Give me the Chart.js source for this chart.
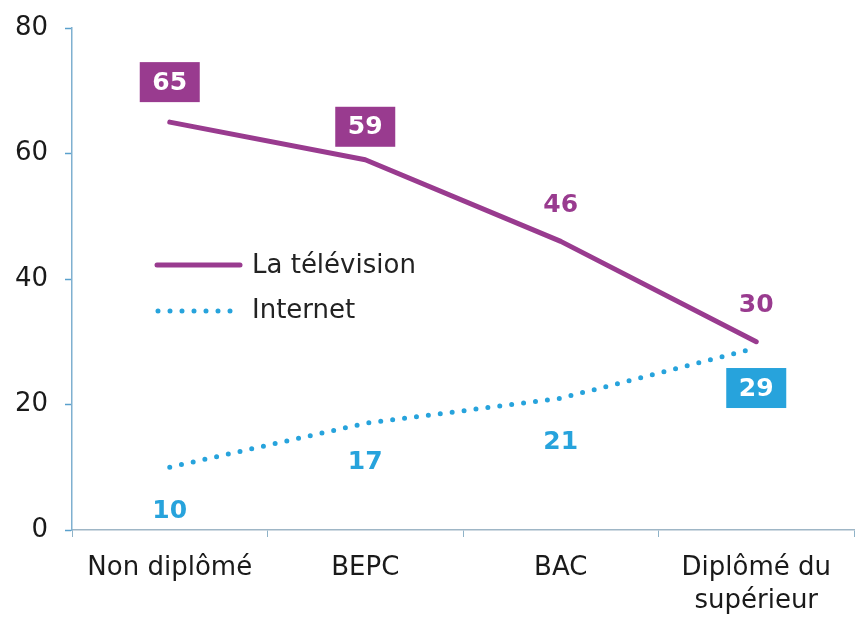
<!DOCTYPE html>
<html>
<head>
<meta charset="utf-8">
<script src="https://cdn.jsdelivr.net/npm/chart.js@4/dist/chart.umd.min.js"></script>
<style>
body { margin:0; background:#fff; }
#wrap { width:856px; height:619px; }
</style>
</head>
<body>
<div id="wrap"><canvas id="myChart" width="856" height="619"></canvas></div>
<script>
var categories = ['Non diplômé', 'BEPC', 'BAC', ['Diplômé du', 'supérieur']];
var tele = [65, 59, 46, 30];
var internet = [10, 17, 21, 29];
var yTicks = [0, 20, 40, 60, 80];

var purple = '#993b8f';
var blue = '#27a3dc';

// label placement: offset in px from point, and whether boxed
var teleLabel = [[-40, true], [-33, true], [-37, false], [-37, false]];
var netLabel = [[43, false], [38, false], [43, false], [40, true]];

var labelsPlugin = {
  id: 'valueLabels',
  afterDatasetsDraw: function (chart) {
    var ctx = chart.ctx;
    ctx.save();
    ctx.font = 'bold 25px "DejaVu Sans"';
    ctx.textAlign = 'center';
    ctx.textBaseline = 'middle';
    var sets = [[0, teleLabel, purple], [1, netLabel, blue]];
    sets.forEach(function (s) {
      var meta = chart.getDatasetMeta(s[0]);
      var vals = chart.data.datasets[s[0]].data;
      meta.data.forEach(function (pt, i) {
        var x = pt.x, y = pt.y + s[1][i][0];
        if (s[1][i][1]) {
          ctx.fillStyle = s[2];
          ctx.fillRect(x - 30, y - 20, 60, 40);
          ctx.fillStyle = '#fff';
        } else {
          ctx.fillStyle = s[2];
        }
        ctx.fillText(String(vals[i]), x, y + 1);
      });
    });
    // legend inside the plot
    ctx.font = '26px "DejaVu Sans"';
    ctx.textAlign = 'left';
    ctx.fillStyle = '#222';
    ctx.lineCap = 'round';
    ctx.lineWidth = 5;
    ctx.strokeStyle = purple;
    ctx.beginPath(); ctx.moveTo(157, 265); ctx.lineTo(240, 265); ctx.stroke();
    ctx.fillText(chart.data.datasets[0].label, 252, 266);
    ctx.strokeStyle = blue;
    ctx.setLineDash([0, 12]);
    ctx.beginPath(); ctx.moveTo(158, 311); ctx.lineTo(238, 311); ctx.stroke();
    ctx.setLineDash([]);
    ctx.fillText(chart.data.datasets[1].label, 252, 311);
    ctx.restore();
  }
};

new Chart(document.getElementById('myChart'), {
  type: 'line',
  data: {
    labels: categories,
    datasets: [
      { label: 'La télévision', data: tele, borderColor: purple, borderWidth: 5,
        pointRadius: 0, tension: 0, borderCapStyle: 'round', borderJoinStyle: 'round' },
      { label: 'Internet', data: internet, borderColor: blue, borderWidth: 5,
        pointRadius: 0, tension: 0, borderDash: [0, 12], borderCapStyle: 'round' }
    ]
  },
  options: {
    responsive: false,
    animation: false,
    layout: { padding: { top: 28, right: 2, left: 0, bottom: 0 } },
    plugins: { legend: { display: false }, tooltip: { enabled: false } },
    scales: {
      x: {
        offset: true,
        grid: { offset: true, drawOnChartArea: false, color: '#8fb3c8', tickLength: 7, tickWidth: 1 },
        border: { color: '#9fb6c6', width: 1.5 },
        ticks: { color: '#1a1a1a', font: { family: 'DejaVu Sans', size: 26, lineHeight: 1.3 }, padding: 14, maxRotation: 0 },
        afterFit: function (axis) { axis.height = 89; axis.paddingLeft = 0; axis.paddingRight = 0; }
      },
      y: {
        min: 0, max: 80,
        afterBuildTicks: function (axis) { axis.ticks = yTicks.map(function (v) { return { value: v }; }); },
        grid: { drawOnChartArea: false, color: '#5aa0cc', tickLength: 7, tickWidth: 1.5 },
        border: { color: '#7fb0d0', width: 1.5 },
        ticks: { color: '#1a1a1a', font: { family: 'DejaVu Sans', size: 26 }, padding: 17 },
        afterFit: function (axis) { axis.width = 72; axis.paddingTop = 0; axis.paddingBottom = 0; }
      }
    }
  },
  plugins: [labelsPlugin]
});
</script>
</body>
</html>
